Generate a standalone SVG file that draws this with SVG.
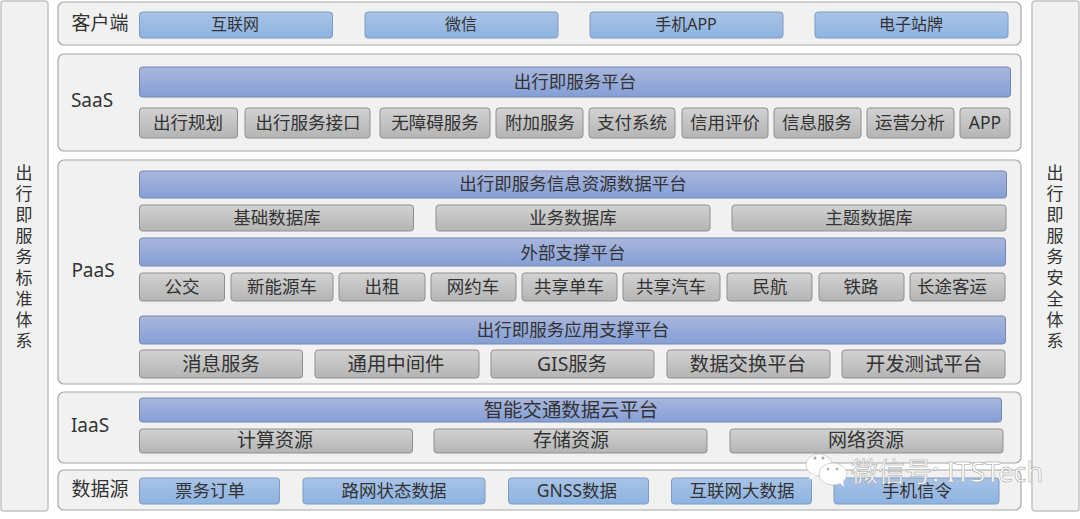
<svg xmlns="http://www.w3.org/2000/svg" width="1080" height="519" viewBox="0 0 1080 519">
<defs>
<linearGradient id="gb" x1="0" y1="0" x2="0" y2="1"><stop offset="0" stop-color="#a9c3e6"/><stop offset="1" stop-color="#8db3e2"/></linearGradient>
<linearGradient id="gp" x1="0" y1="0" x2="0" y2="1"><stop offset="0" stop-color="#aab6dc"/><stop offset="1" stop-color="#849fd6"/></linearGradient>
<linearGradient id="gg" x1="0" y1="0" x2="0" y2="1"><stop offset="0" stop-color="#d2d2d2"/><stop offset="1" stop-color="#b4b4b4"/></linearGradient>
</defs>
<style>
text{font-family:"Noto Sans","Noto Sans CJK SC",sans-serif;fill:#333;text-anchor:middle;dominant-baseline:central}
.panel{fill:#f1f1f1;stroke:#a8a8a8;stroke-width:1.2}
.side{fill:#f1f1f1;stroke:#c4c4c4;stroke-width:1.5}
.b{fill:url(#gb);stroke:#7f9cc0;stroke-width:1}
.p{fill:url(#gp);stroke:#7487ae;stroke-width:1}
.g{fill:url(#gg);stroke:#8f8f8f;stroke-width:1}
.lab{font-size:19px}
.t16{font-size:16px}.t17{font-size:17px}.t175{font-size:17.5px}.t19{font-size:19px}.t194{font-size:19.4px}
.wm{fill:#fff;stroke:#9a9a9a;stroke-width:.5;font-size:27px;text-anchor:start}
</style>
<g id="side-left"><rect class="side" x="1" y="1" width="47" height="510" rx="3"/>
<text class="t17" x="24"><tspan x="24" y="172">出</tspan><tspan x="24" y="193">行</tspan><tspan x="24" y="214">即</tspan><tspan x="24" y="235">服</tspan><tspan x="24" y="256">务</tspan><tspan x="24" y="277">标</tspan><tspan x="24" y="298">准</tspan><tspan x="24" y="319">体</tspan><tspan x="24" y="340">系</tspan></text></g>
<g id="side-right"><rect class="side" x="1032" y="1" width="47" height="510" rx="3"/>
<text class="t17" x="1055"><tspan x="1055" y="172">出</tspan><tspan x="1055" y="193">行</tspan><tspan x="1055" y="214">即</tspan><tspan x="1055" y="235">服</tspan><tspan x="1055" y="256">务</tspan><tspan x="1055" y="277">安</tspan><tspan x="1055" y="298">全</tspan><tspan x="1055" y="319">体</tspan><tspan x="1055" y="340">系</tspan></text></g>

<g id="client"><rect class="panel" x="58" y="2" width="963" height="43" rx="6"/>
<text class="lab" x="100" y="23">客户端</text>
<rect class="b" x="139.500" y="12" width="193" height="26" rx="3"/><text class="t16" x="235" y="24">互联网</text>
<rect class="b" x="365" y="12" width="193" height="26" rx="3"/><text class="t16" x="461" y="24">微信</text>
<rect class="b" x="590" y="12" width="193" height="26" rx="3"/><text class="t16" x="686" y="24">手机APP</text>
<rect class="b" x="815" y="12" width="193" height="26" rx="3"/><text class="t16" x="911" y="24">电子站牌</text></g>

<g id="saas"><rect class="panel" x="58" y="54" width="963" height="97" rx="6"/>
<text class="lab" x="92" y="100">SaaS</text>
<rect class="p" x="139.500" y="67" width="871" height="30" rx="3"/><text class="t175" x="575" y="81">出行即服务平台</text>
<rect class="g" x="139.500" y="108" width="98" height="30" rx="3"/><text class="t175" x="188" y="122">出行规划</text>
<rect class="g" x="245" y="108" width="125" height="30" rx="3"/><text class="t175" x="308" y="122">出行服务接口</text>
<rect class="g" x="380" y="108" width="110" height="30" rx="3"/><text class="t175" x="435" y="122">无障碍服务</text>
<rect class="g" x="496" y="108" width="87" height="30" rx="3"/><text class="t175" x="540" y="122">附加服务</text>
<rect class="g" x="589" y="108" width="86" height="30" rx="3"/><text class="t175" x="632" y="122">支付系统</text>
<rect class="g" x="682" y="108" width="86" height="30" rx="3"/><text class="t175" x="725" y="122">信用评价</text>
<rect class="g" x="774" y="108" width="87" height="30" rx="3"/><text class="t175" x="817" y="122">信息服务</text>
<rect class="g" x="867" y="108" width="87" height="30" rx="3"/><text class="t175" x="910" y="122">运营分析</text>
<rect class="g" x="960" y="108" width="50" height="30" rx="3"/><text class="t175" x="985" y="122">APP</text></g>

<g id="paas"><rect class="panel" x="58" y="160" width="963" height="224" rx="6"/>
<text class="lab" x="93" y="270">PaaS</text>
<rect class="p" x="139.500" y="171" width="867" height="27" rx="3"/><text class="t175" x="573" y="183">出行即服务信息资源数据平台</text>
<rect class="g" x="139.500" y="205" width="274" height="26" rx="3"/><text class="t175" x="277" y="217">基础数据库</text>
<rect class="g" x="436" y="205" width="274" height="26" rx="3"/><text class="t175" x="573" y="217">业务数据库</text>
<rect class="g" x="732" y="205" width="274" height="26" rx="3"/><text class="t175" x="869" y="217">主题数据库</text>
<rect class="p" x="139.500" y="238" width="866" height="28" rx="3"/><text class="t175" x="573" y="252">外部支撑平台</text>
<rect class="g" x="139.500" y="273" width="85" height="28" rx="3"/><text class="t175" x="182" y="286">公交</text>
<rect class="g" x="231" y="273" width="102" height="28" rx="3"/><text class="t175" x="282" y="286">新能源车</text>
<rect class="g" x="339" y="273" width="86" height="28" rx="3"/><text class="t175" x="382" y="286">出租</text>
<rect class="g" x="431" y="273" width="85" height="28" rx="3"/><text class="t175" x="473" y="286">网约车</text>
<rect class="g" x="522" y="273" width="95" height="28" rx="3"/><text class="t175" x="569" y="286">共享单车</text>
<rect class="g" x="623" y="273" width="97" height="28" rx="3"/><text class="t175" x="671" y="286">共享汽车</text>
<rect class="g" x="727" y="273" width="85" height="28" rx="3"/><text class="t175" x="770" y="286">民航</text>
<rect class="g" x="819" y="273" width="85" height="28" rx="3"/><text class="t175" x="861" y="286">铁路</text>
<rect class="g" x="910" y="273" width="95" height="28" rx="3"/><text class="t175" x="952" y="286">长途客运</text>
<rect class="p" x="139.500" y="316" width="866" height="28" rx="3"/><text class="t175" x="573" y="329">出行即服务应用支撑平台</text>
<rect class="g" x="139.500" y="350" width="163" height="28" rx="3"/><text class="t194" x="221" y="363">消息服务</text>
<rect class="g" x="315" y="350" width="164" height="28" rx="3"/><text class="t194" x="396" y="363">通用中间件</text>
<rect class="g" x="491" y="350" width="163" height="28" rx="3"/><text class="t194" x="572" y="363">GIS服务</text>
<rect class="g" x="667" y="350" width="163" height="28" rx="3"/><text class="t194" x="748" y="363">数据交换平台</text>
<rect class="g" x="842" y="350" width="163" height="28" rx="3"/><text class="t194" x="924" y="363">开发测试平台</text></g>

<g id="iaas"><rect class="panel" x="58" y="392" width="963" height="71" rx="6"/>
<text class="lab" x="90" y="425">IaaS</text>
<rect class="p" x="139.500" y="398" width="862" height="24" rx="3"/><text class="t194" x="571" y="409">智能交通数据云平台</text>
<rect class="g" x="139.500" y="429" width="273" height="24" rx="3"/><text class="t19" x="275" y="440">计算资源</text>
<rect class="g" x="434" y="429" width="273" height="24" rx="3"/><text class="t19" x="571" y="440">存储资源</text>
<rect class="g" x="730" y="429" width="273" height="24" rx="3"/><text class="t19" x="866" y="440">网络资源</text></g>

<g id="datasource"><rect class="panel" x="58" y="470" width="963" height="40" rx="6"/>
<text class="lab" x="100" y="489">数据源</text>
<rect class="b" x="139.500" y="478" width="140" height="26" rx="3"/><text class="t175" x="210" y="490">票务订单</text>
<rect class="b" x="303" y="478" width="182" height="26" rx="3"/><text class="t175" x="394" y="490">路网状态数据</text>
<rect class="b" x="508.500" y="478" width="140" height="26" rx="3"/><text class="t175" x="577" y="490">GNSS数据</text>
<rect class="b" x="671.500" y="478" width="140" height="26" rx="3"/><text class="t175" x="742" y="490">互联网大数据</text>
<rect class="b" x="834" y="478" width="165" height="26" rx="3"/><text class="t175" x="917" y="490">手机信令</text></g>

<g id="watermark">
<ellipse cx="819" cy="465" rx="13" ry="11" fill="#fff" stroke="#b5b5b5" stroke-width=".6"/>
<path d="M811 474l-2 6 7-4z" fill="#fff"/>
<ellipse cx="833" cy="474" rx="14" ry="11" fill="#fff" stroke="#b5b5b5" stroke-width=".6"/>
<path d="M840 483l4 4-1-7z" fill="#fff"/>
<circle cx="815" cy="458" r="1.500" fill="#aaa"/><circle cx="823" cy="458" r="1.500" fill="#aaa"/><circle cx="828" cy="469" r="1.300" fill="#aaa"/><circle cx="837" cy="469" r="1.300" fill="#aaa"/>
<text class="wm" x="851" y="471">微信号: ITSTech</text>
</g>
</svg>
